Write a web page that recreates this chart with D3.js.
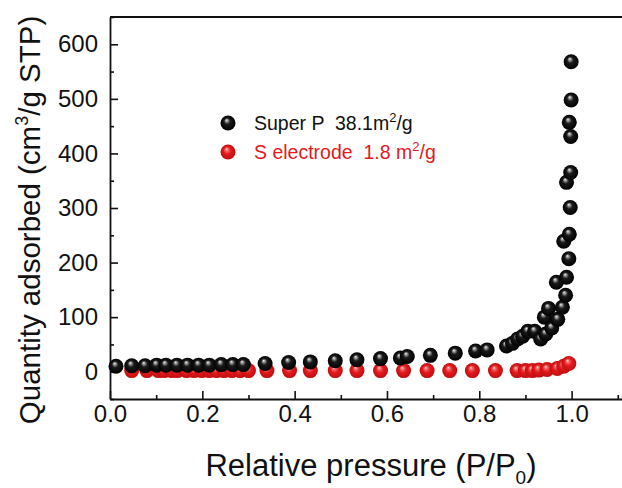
<!DOCTYPE html>
<html>
<head>
<meta charset="utf-8">
<script src="https://cdn.jsdelivr.net/npm/d3@7"></script>
<style>
  body { margin: 0; background: #fff; }
  svg text { font-family: "Liberation Sans", Arial, sans-serif; }
</style>
</head>
<body>
<svg id="chart" width="622" height="488"></svg>
<script>
// N2 adsorption isotherms: relative pressure vs. quantity adsorbed
const superP_x = [0.013, 0.047, 0.076, 0.101, 0.121, 0.145, 0.168, 0.192, 0.215, 0.241, 0.266, 0.289,
  0.336, 0.387, 0.434, 0.488, 0.535, 0.586, 0.629, 0.644, 0.694, 0.748, 0.792, 0.817,
  0.859, 0.872, 0.883, 0.894, 0.905, 0.920, 0.933, 0.944, 0.941, 0.957, 0.970, 0.950, 0.980,
  0.987, 0.967, 0.989, 0.994, 0.983, 0.995, 0.997, 0.989, 0.998, 0.998, 0.995, 0.999, 0.999];
const superP_y = [10, 11, 11, 12, 12, 12, 12, 12, 12, 13, 13, 13,
  15, 17, 18, 20, 22, 24, 25, 28, 30, 34, 38, 40,
  47, 52, 60, 65, 74, 74, 60, 69, 100, 80, 96, 116, 118,
  140, 164, 173, 207, 239, 252, 301, 347, 365, 431, 457, 498, 568];

const sElec_x = [0.047, 0.080, 0.105, 0.117, 0.134, 0.146, 0.166, 0.182, 0.199, 0.215, 0.231, 0.247,
  0.264, 0.282, 0.300, 0.340, 0.389, 0.434, 0.488, 0.535, 0.586, 0.636, 0.687, 0.736, 0.785,
  0.835, 0.882, 0.900, 0.915, 0.929, 0.947, 0.969, 0.983, 0.994];
const sElec_y = [2, 2, 2, 2, 2, 2, 2, 2, 2, 2, 2, 2,
  2, 2, 2, 2, 2, 2, 2, 2, 2, 2, 2, 2, 2,
  2, 2, 2, 2, 3, 4, 6, 10, 15];

const xTicks = [0.0, 0.2, 0.4, 0.6, 0.8, 1.0];
const xMinor = [0.1, 0.3, 0.5, 0.7, 0.9, 1.1];
const yTicks = [0, 100, 200, 300, 400, 500, 600];
const yMinor = [-50, 50, 150, 250, 350, 450, 550, 650];

const seriesNames = ["Super P  38.1m", "S electrode  1.8 m"];

const svg = d3.select("#chart");
const plotL = 110, plotT = 17, plotB = 399, plotR = 627;

const x = d3.scaleLinear().domain([0, 1.12]).range([plotL, plotR]);
const y = d3.scaleLinear().domain([-50, 650]).range([plotB, plotT]);

// sphere-like marker fills
const defs = svg.append("defs");
function ball(id, stops) {
  const g = defs.append("radialGradient").attr("id", id)
    .attr("cx", "50%").attr("cy", "50%").attr("r", "50%")
    .attr("fx", "40%").attr("fy", "30%");
  stops.forEach(s => g.append("stop").attr("offset", s[0]).attr("stop-color", s[1]));
}
ball("ballBlack", [[0, "#f2f2f2"], [0.16, "#9a9a9a"], [0.42, "#1a1a1a"], [1, "#000"]]);
ball("ballRed", [[0, "#ffd6d6"], [0.2, "#f06a6a"], [0.5, "#e31a1c"], [1, "#c00d10"]]);

// frame top line
svg.append("line").attr("x1", plotL).attr("x2", plotR).attr("y1", plotT).attr("y2", plotT)
  .attr("stroke", "#111").attr("stroke-width", 1.8);

const fmt1 = d3.format(".1f");

svg.append("g").attr("transform", `translate(0,${plotB})`)
  .call(d3.axisBottom(x).tickValues(xTicks).tickFormat(fmt1).tickSizeInner(-8).tickSizeOuter(0).tickPadding(6));
svg.append("g").attr("transform", `translate(0,${plotB})`)
  .call(d3.axisBottom(x).tickValues(xMinor).tickFormat("").tickSizeInner(-4).tickSizeOuter(0))
  .select(".domain").remove();

svg.append("g").attr("transform", `translate(${plotL},0)`)
  .call(d3.axisLeft(y).tickValues(yTicks).tickFormat(d3.format("d")).tickSizeInner(-8).tickSizeOuter(0).tickPadding(12));
svg.append("g").attr("transform", `translate(${plotL},0)`)
  .call(d3.axisLeft(y).tickValues(yMinor).tickFormat("").tickSizeInner(-4).tickSizeOuter(0))
  .select(".domain").remove();

svg.selectAll(".domain").attr("stroke", "#111").attr("stroke-width", 1.8);
svg.selectAll(".tick line").attr("stroke", "#111").attr("stroke-width", 1.6);
svg.selectAll(".tick text").attr("font-size", 24).attr("fill", "#111")
  .style("font-family", "'Liberation Sans', Arial, sans-serif");

// axis titles
const xt = svg.append("text").attr("x", 371).attr("y", 476).attr("text-anchor", "middle")
  .attr("font-size", 31).attr("fill", "#111");
xt.append("tspan").text("Relative pressure (P/P");
xt.append("tspan").attr("font-size", 19).attr("dy", 8).text("0");
xt.append("tspan").attr("dy", -8).text(")");

const yt = svg.append("text").attr("transform", "translate(40,220) rotate(-90)")
  .attr("text-anchor", "middle").attr("font-size", 29.5).attr("fill", "#111");
yt.append("tspan").text("Quantity adsorbed (cm");
yt.append("tspan").attr("font-size", 18).attr("dy", -12).text("3");
yt.append("tspan").attr("dy", 12).text("/g STP)");

// data points
const r = 7.5;
svg.append("g").selectAll("circle").data(d3.zip(sElec_x, sElec_y)).join("circle")
  .attr("cx", d => x(d[0])).attr("cy", d => y(d[1])).attr("r", r).attr("fill", "url(#ballRed)");
svg.append("g").selectAll("circle").data(d3.zip(superP_x, superP_y)).join("circle")
  .attr("cx", d => x(d[0])).attr("cy", d => y(d[1])).attr("r", r).attr("fill", "url(#ballBlack)");

// legend
const legend = [
  { name: seriesNames[0], fill: "url(#ballBlack)", color: "#111", y: 123 },
  { name: seriesNames[1], fill: "url(#ballRed)", color: "#e31a1c", y: 152 }
];
legend.forEach(l => {
  svg.append("circle").attr("cx", 228).attr("cy", l.y).attr("r", r).attr("fill", l.fill);
  const t = svg.append("text").attr("x", 254).attr("y", l.y + 7).attr("font-size", 19.5).attr("fill", l.color)
    .style("white-space", "pre");
  t.append("tspan").text(l.name);
  t.append("tspan").attr("font-size", 13).attr("dy", -8).text("2");
  t.append("tspan").attr("dy", 8).text("/g");
});
</script>
</body>
</html>
